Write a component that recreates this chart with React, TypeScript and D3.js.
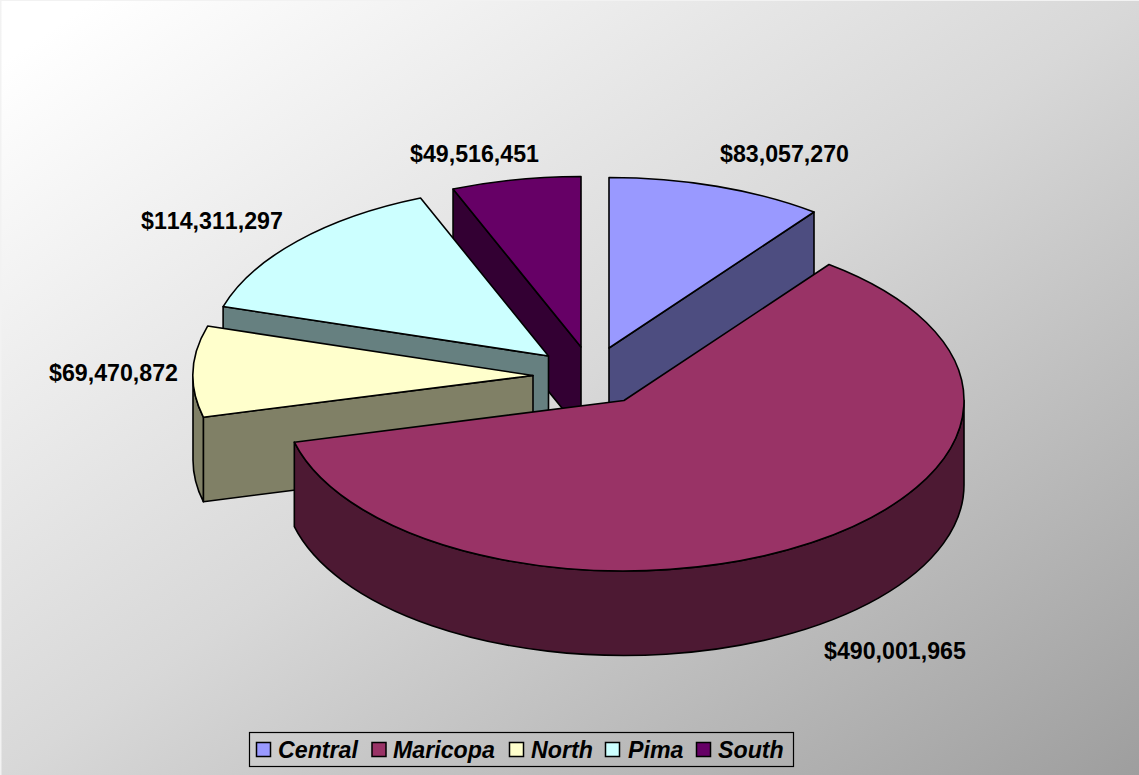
import React from "react";
import * as d3 from "d3";

const categories = ["Central", "Maricopa", "North", "Pima", "South"];
const values = [83057270, 490001965, 69470872, 114311297, 49516451];
const topColors = ["#9999FF", "#993366", "#FFFFCC", "#CCFFFF", "#660066"];
const sideColors = ["#4D4D80", "#4D1933", "#808066", "#668080", "#330033"];
const apexX = [609, 624, 533, 548.5, 581];
const apexY = [348, 400.5, 375.5, 356, 347];
const labelX = [720, 824, 49, 141, 410];
const labelY = [162, 659, 381, 229, 162];
const legendSwatchX = [256.5, 372, 509.5, 605.5, 696.5];
const legendTextX = [278, 393, 531, 628, 718];

const W = 1139;
const H = 775;
const RX = 340;
const RY = 170.5;
const DEPTH = 84.5;
const FONT = "'Liberation Sans', Arial, sans-serif";
const money = d3.format("$,");

const pt = (cx: number, cy: number, t: number): [number, number] => [
  cx + RX * Math.sin(t),
  cy - RY * Math.cos(t),
];

const arcTo = (cx: number, cy: number, t: number, sweep: number, large: number) => {
  const [x, y] = pt(cx, cy, t);
  return `A${RX},${RY} 0 ${large} ${sweep} ${x},${y}`;
};

function Slice({ i, a0, a1 }: { i: number; a0: number; a1: number }) {
  const cx = apexX[i];
  const cy = apexY[i];
  const P0 = pt(cx, cy, a0);
  const P1 = pt(cx, cy, a1);
  const stroke = { stroke: "#000", strokeWidth: 1.6, strokeLinejoin: "round" as const };
  const large = a1 - a0 > Math.PI ? 1 : 0;
  const top = `M${cx},${cy}L${P0[0]},${P0[1]}${arcTo(cx, cy, a1, 1, large)}Z`;

  const face = (P: [number, number]) =>
    `M${cx},${cy}L${P[0]},${P[1]}L${P[0]},${P[1] + DEPTH}L${cx},${cy + DEPTH}Z`;

  const w0 = Math.max(a0, Math.PI / 2);
  const w1 = Math.min(a1, (3 * Math.PI) / 2);
  let wall = "";
  if (w1 > w0) {
    const A = pt(cx, cy, w0);
    const B = pt(cx, cy, w1);
    const lg = w1 - w0 > Math.PI ? 1 : 0;
    wall =
      `M${A[0]},${A[1]}${arcTo(cx, cy, w1, 1, lg)}` +
      `L${B[0]},${B[1] + DEPTH}${arcTo(cx, cy + DEPTH, w0, 0, lg)}Z`;
  }
  return (
    <g>
      {Math.sin(a0) < -1e-6 && <path d={face(P0)} fill={sideColors[i]} {...stroke} />}
      {Math.sin(a1) > 1e-6 && <path d={face(P1)} fill={sideColors[i]} {...stroke} />}
      {wall && <path d={wall} fill={sideColors[i]} {...stroke} />}
      <path d={top} fill={topColors[i]} {...stroke} />
    </g>
  );
}

export default function App() {
  const arcs = d3
    .pie<number>()
    .sort(null)
    .startAngle(0)
    .endAngle(2 * Math.PI)(values);
  const order = [4, 3, 2, 0, 1];
  return (
    <svg
      width={W}
      height={H}
      viewBox={`0 0 ${W} ${H}`}
      style={{ position: "absolute", left: 0, top: 0, display: "block", fontKerning: "none" }}
    >
      <defs>
        <linearGradient id="bg" x1="0" y1="0" x2="1" y2="1">
          <stop offset="0.04" stopColor="#FFFFFF" />
          <stop offset="0.5" stopColor="#D8D8D8" />
          <stop offset="1" stopColor="#9E9E9E" />
        </linearGradient>
      </defs>
      <rect x={0} y={0} width={W} height={H} fill="#F2F2F2" />
      <rect x={1.5} y={1} width={W - 1.5} height={H - 1} fill="url(#bg)" />
      {order.map((i) => (
        <Slice key={i} i={i} a0={arcs[i].startAngle} a1={arcs[i].endAngle} />
      ))}
      {values.map((v, i) => (
        <text
          key={i}
          x={labelX[i]}
          y={labelY[i]}
          fontFamily={FONT}
          fontWeight="bold"
          fontSize={23.2}
          fill="#000"
          style={{ fontKerning: "none" }}
        >
          {money(v)}
        </text>
      ))}
      <rect x={249.5} y={732.5} width={544} height={34} fill="none" stroke="#000" strokeWidth={1.2} />
      {categories.map((c, i) => (
        <g key={c}>
          <rect
            x={legendSwatchX[i]}
            y={742.5}
            width={14}
            height={14}
            fill={topColors[i]}
            stroke="#000"
            strokeWidth={1.5}
          />
          <text
            x={legendTextX[i]}
            y={758}
            fontFamily={FONT}
            fontWeight="bold"
            fontStyle="italic"
            fontSize={23.2}
            fill="#000"
            style={{ fontKerning: "none" }}
          >
            {c}
          </text>
        </g>
      ))}
    </svg>
  );
}
